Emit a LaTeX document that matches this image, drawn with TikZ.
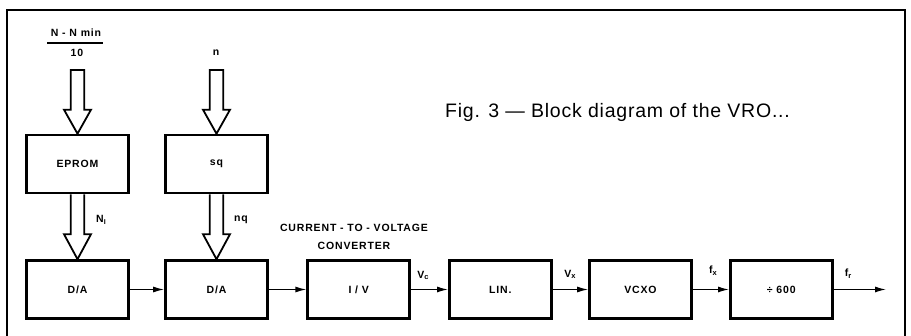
\documentclass[tikz,border=0pt]{standalone}
\usepackage{fontspec}
\setmainfont{Liberation Sans}
\newfontfamily\labfont[LetterSpace=8]{Liberation Sans}
\newfontfamily\capfont[LetterSpace=4]{Liberation Sans}
\usetikzlibrary{arrows.meta,calc}
\newcommand\hollowclosed[2]{\draw[hollow] ($(#1)+(-6.8,0)$) -- ($(#2)+(-6.8,-24)$) -- ($(#2)+(-13.5,-24)$) -- (#2) -- ($(#2)+(13.5,-24)$) -- ($(#2)+(6.8,-24)$) -- ($(#1)+(6.8,0)$) -- cycle;}
\newcommand\hollowopen[2]{\draw[hollow] ($(#1)+(-6.8,0)$) -- ($(#2)+(-6.8,-25)$) -- ($(#2)+(-13.5,-25)$) -- (#2) -- ($(#2)+(13.5,-25)$) -- ($(#2)+(6.8,-25)$) -- ($(#1)+(6.8,0)$);}
\begin{document}
\begin{tikzpicture}[x=1pt,y=-1pt,
  blk/.style={draw,line width=2.6pt,minimum width=102pt,minimum height=58pt,inner sep=0pt,font=\labfont\bfseries\fontsize{10.5}{12}\selectfont},
  lab/.style={font=\labfont\bfseries\fontsize{10.5}{12}\selectfont,inner sep=0pt},
  conn/.style={line width=1.3pt,-{Latex[length=11pt,width=6pt]}},
  hollow/.style={line width=1.8pt,line join=miter}]
\useasboundingbox (0,0) rectangle (911,336);
\draw[line width=1.8pt] (7,336) -- (7,10) -- (905,10) -- (905,336);

% blocks
\node[blk] (eprom) at (77.5,164) {EPROM};
\node[blk] (sq) at (216.5,164) {sq};
\node[blk] (da1) at (77.5,289.5) {D/A};
\node[blk] (da2) at (216.5,289.5) {D/A};
\node[blk] (iv) at (358.7,289.5) {I / V};
\node[blk] (lin) at (500.3,289.5) {LIN.};
\node[blk] (vcxo) at (640.5,289.5) {VCXO};
\node[blk] (div) at (781.3,289.5) {÷ 600};

% inputs
\node[lab] (nn) at (76,33) {N - N min};
\node[lab] (ten) at (77,53) {10};
\draw[line width=1.2pt] (47,43) -- (103,43);
\node[lab] (nlab) at (216,53) {n};
\coordinate (eprin) at (77.5,70);
\coordinate (sqin) at (216.5,70);

% hollow arrows
\hollowclosed{eprin}{eprom.north}
\hollowclosed{sqin}{sq.north}
\hollowopen{eprom.south}{da1.north}
\hollowopen{sq.south}{da2.north}

\node[lab] (ni) at (101,220) {N\raisebox{-2pt}{\fontsize{7}{7}\selectfont I}};
\node[lab] (nq) at (241,220) {nq};
\node[lab,align=center,font=\labfont\bfseries\fontsize{10.5}{18}\selectfont] (cv) at (354,237) {CURRENT - TO - VOLTAGE\\CONVERTER};

% chain
\coordinate (out) at (886,289.5);
\draw[conn] (da1) -- (da2);
\draw[conn] (da2) -- (iv);
\draw[conn] (iv) -- (lin);
\draw[conn] (lin) -- (vcxo);
\draw[conn] (vcxo) -- (div);
\draw[conn] (div) -- (out);

\node[lab] (vc) at (423,275) {V\raisebox{-1pt}{\fontsize{7.5}{8}\selectfont c}};
\node[lab] (vx) at (570,274) {V\raisebox{-1pt}{\fontsize{7.5}{8}\selectfont x}};
\node[lab] (fx) at (713,271) {f\raisebox{-2pt}{\fontsize{7.5}{8}\selectfont x}};
\node[lab] (fr) at (848,274) {f\raisebox{-2pt}{\fontsize{7.5}{8}\selectfont r}};

% caption
\node[font=\capfont\fontsize{19.5}{24}\selectfont,anchor=base west,inner sep=0pt] (cap) at (445,118) {Fig. 3 — Block diagram of the VRO...};
\end{tikzpicture}
\end{document}
